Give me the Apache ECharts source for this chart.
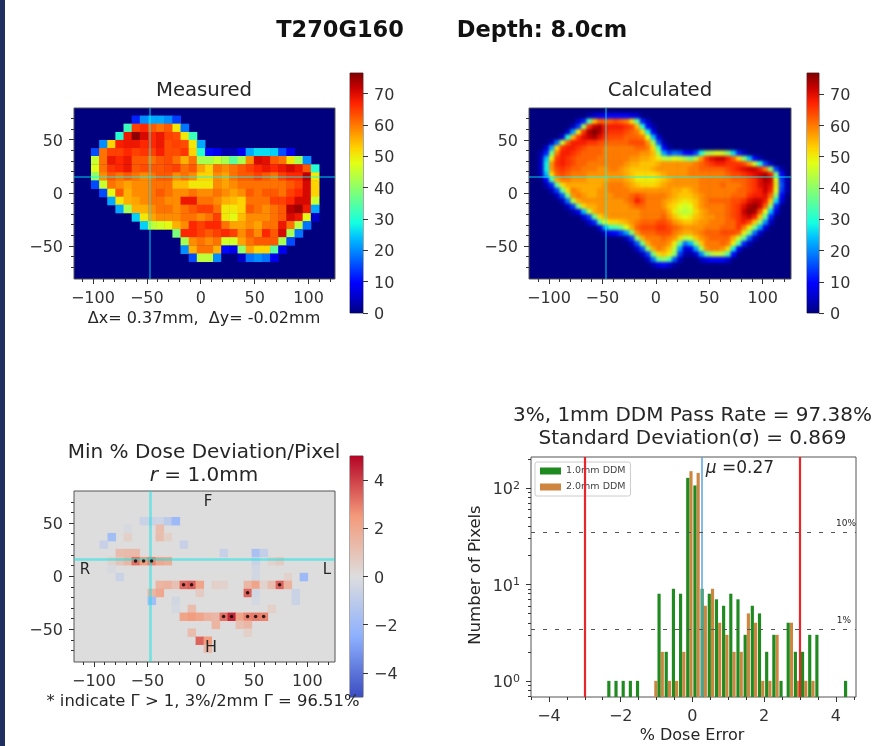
<!DOCTYPE html>
<html>
<head>
<meta charset="utf-8">
<style>
html,body{margin:0;padding:0;background:#fff}
#chart{position:absolute;left:0;top:0;width:896px;height:746px;filter:blur(0.6px);z-index:1}
#calcBox{position:absolute;left:529px;top:108px;width:262px;height:171px;overflow:hidden;background:#00007f}
#calcMap{width:262px;height:171px;filter:blur(1.5px)}
</style>
<script src="https://cdn.jsdelivr.net/npm/echarts@6/dist/echarts.min.js"></script>
</head>
<body>
<div id="calcBox"><div id="calcMap"></div></div>
<div id="chart"></div>
<script>
// tick values
const mapMajor = [-100, -50, 0, 50, 100];
const mapMinorX = [-110, -90, -80, -70, -60, -40, -30, -20, -10, 10, 20, 30, 40, 60, 70, 80, 90, 110, 120];
const mapMajorY = [-50, 0, 50];
const mapMinorY = [-70, -60, -40, -30, -20, -10, 10, 20, 30, 40, 60, 70];
const doseBarTicks = [0, 10, 20, 30, 40, 50, 60, 70];
const devBarTicks = [-4, -2, 0, 2, 4];
const histMajorX = [-4, -2, 0, 2, 4];
const histMinorX = [-4.5, -3.5, -3, -2.5, -1.5, -1, -0.5, 0.5, 1, 1.5, 2.5, 3, 3.5, 4.5];
const histMajorY = [1, 10, 100];
const histMinorY = [0.7, 0.8, 0.9, 2, 3, 4, 5, 6, 7, 8, 9, 20, 30, 40, 50, 60, 70, 80, 90, 200];

// colour ramps
const jet = ['#00007f', '#0000c8', '#0000ff', '#0040ff', '#0080ff', '#00bfff', '#14ffe2', '#48ffaf', '#7bff7b',
  '#afff48', '#e2ff14', '#ffd200', '#ff9700', '#ff5c00', '#ff2100', '#c80000', '#7f0000'];
const coolwarm = ['#3b4cc0', '#8db0fe', '#dddddd', '#f49a7b', '#b40426'];

// 十字线位置
const crossMeasured = [-47, 15];
const crossCalculated = [-47, 15];
const crossDeviation = [-47, 16];

// Measured: [y, first x index, values...]  x = -98 + 7.55 * index
const measRows = [
  [68.7, 5, 12, 20, 22, 22, 20, 14],
  [61.1, 4, 32, 64, 66, 62, 60, 62, 50, 18],
  [53.3, 3, 30, 68, 75, 70, 66, 68, 64, 63, 50, 32],
  [45.8, 1, 20, 52, 67, 68, 68, 66, 66, 68, 63, 64, 63, 50, 22],
  [38.2, 0, 15, 60, 64, 64, 66, 64, 65, 64, 67, 63, 63, 65, 52, 30, 10, 8, 3, 3, 8, 22, 26, 26, 25, 15, 8],
  [30.7, 0, 45, 60, 68, 66, 68, 62, 62, 60, 62, 63, 60, 55, 60, 42, 42, 45, 42, 35, 42, 58, 70, 69, 62, 60, 50, 42, 20],
  [22.9, 0, 47, 60, 65, 66, 68, 62, 63, 62, 62, 63, 64, 60, 62, 56, 52, 60, 58, 60, 62, 64, 66, 68, 66, 68, 70, 68, 62, 30],
  [15.4, 0, 40, 58, 62, 60, 62, 60, 58, 60, 62, 62, 58, 60, 58, 52, 52, 58, 56, 60, 62, 62, 64, 62, 60, 64, 66, 66, 72, 50],
  [7.8, 0, 15, 45, 60, 58, 56, 58, 58, 60, 60, 60, 54, 54, 50, 50, 50, 58, 56, 58, 60, 60, 60, 60, 60, 60, 62, 64, 70, 52],
  [0, 1, 15, 48, 62, 55, 58, 58, 60, 62, 60, 58, 58, 60, 58, 58, 60, 58, 56, 58, 62, 60, 62, 62, 60, 64, 66, 70, 52],
  [-7.5, 2, 22, 50, 55, 56, 58, 60, 60, 58, 58, 68, 68, 60, 60, 58, 55, 54, 52, 60, 60, 60, 64, 64, 66, 70, 70, 45],
  [-15, 3, 22, 42, 55, 55, 58, 60, 60, 58, 60, 62, 64, 64, 60, 50, 50, 52, 62, 60, 58, 60, 62, 72, 74, 68, 22],
  [-22.9, 5, 25, 50, 56, 58, 58, 58, 60, 60, 58, 60, 64, 50, 48, 54, 58, 58, 58, 60, 62, 70, 68, 48, 5],
  [-30.4, 6, 25, 44, 46, 48, 55, 58, 66, 64, 66, 66, 60, 56, 56, 58, 56, 60, 60, 68, 60, 44, 18],
  [-37.9, 10, 38, 66, 66, 64, 62, 64, 66, 64, 58, 62, 58, 66, 62, 70, 42, 18],
  [-45.5, 11, 42, 58, 60, 58, 60, 46, 46, 56, 60, 62, 62, 62, 42, 15],
  [-53.3, 11, 20, 55, 60, 60, 55, 10, 8, 40, 56, 52, 52, 35, 8],
  [-60.8, 12, 15, 44, 44, 20, 0, 0, 5, 18, 20, 18, 8]
];

// Calculated: [y, first x, values at 5mm steps...]
const calcRows = [
  [72.5, -62.5, 3, 6, 8, 10, 10, 10, 10, 10, 8, 6],
  [67.5, -72.5, 5, 12, 35, 55, 62, 62, 62, 64, 62, 60, 52, 35, 12, 4],
  [62.5, -77.5, 4, 14, 42, 66, 72, 74, 68, 68, 68, 68, 66, 64, 55, 30, 10, 3],
  [57.5, -82.5, 5, 22, 50, 66, 74, 77, 74, 68, 66, 66, 66, 64, 62, 60, 52, 28, 8],
  [52.5, -87.5, 6, 30, 55, 66, 70, 72, 74, 70, 66, 64, 64, 64, 62, 62, 62, 60, 48, 24, 6],
  [47.5, -97.5, 4, 18, 45, 62, 68, 68, 68, 66, 66, 64, 63, 62, 62, 62, 62, 64, 64, 64, 58, 42, 16, 3],
  [42.5, -102.5, 5, 22, 52, 66, 68, 68, 66, 64, 62, 62, 62, 60, 60, 60, 60, 60, 60, 62, 62, 60, 52, 32, 10, 2],
  [37.5, -107.5, 3, 12, 38, 60, 68, 68, 66, 64, 62, 62, 62, 62, 60, 60, 60, 60, 60, 60, 60, 58, 58, 55, 42, 22, 14, 18, 16, 10, 8, 14, 30, 42, 45, 48, 46, 40, 26, 12, 4],
  [32.5, -107.5, 4, 24, 50, 65, 68, 66, 64, 62, 62, 62, 62, 60, 60, 60, 60, 60, 60, 58, 58, 56, 56, 54, 50, 45, 44, 48, 46, 42, 38, 44, 58, 66, 70, 72, 72, 68, 62, 52, 40, 24, 10, 3],
  [27.5, -107.5, 5, 28, 58, 66, 68, 66, 64, 62, 62, 60, 60, 60, 60, 60, 60, 60, 58, 56, 56, 54, 54, 54, 56, 58, 58, 58, 58, 58, 58, 60, 62, 64, 66, 68, 68, 66, 66, 66, 64, 58, 46, 30, 14, 4],
  [22.5, -107.5, 5, 28, 58, 64, 66, 64, 62, 62, 60, 60, 60, 58, 58, 60, 60, 58, 56, 54, 54, 54, 54, 56, 58, 58, 58, 58, 58, 58, 60, 60, 62, 62, 62, 62, 62, 64, 66, 68, 70, 72, 72, 68, 60, 40, 14, 3],
  [17.5, -107.5, 4, 24, 52, 62, 64, 62, 60, 60, 60, 58, 58, 58, 58, 58, 58, 58, 56, 54, 52, 52, 52, 52, 54, 56, 58, 58, 58, 58, 60, 60, 60, 60, 60, 60, 60, 62, 64, 64, 66, 68, 70, 72, 74, 68, 38, 10],
  [12.5, -102.5, 10, 34, 56, 60, 60, 58, 58, 58, 56, 56, 56, 56, 58, 58, 58, 56, 54, 50, 50, 50, 50, 52, 54, 56, 58, 58, 58, 58, 58, 60, 60, 60, 60, 60, 60, 62, 62, 62, 64, 66, 70, 74, 72, 48, 14, 3],
  [7.5, -102.5, 3, 12, 36, 52, 56, 56, 56, 56, 56, 56, 56, 58, 60, 60, 60, 58, 56, 54, 52, 52, 52, 54, 56, 58, 58, 58, 58, 58, 58, 60, 60, 60, 60, 62, 60, 60, 60, 62, 64, 66, 70, 72, 70, 50, 16, 3],
  [2.5, -97.5, 4, 14, 36, 52, 60, 58, 56, 56, 56, 58, 58, 60, 60, 60, 60, 58, 58, 58, 58, 58, 58, 58, 58, 56, 56, 54, 56, 58, 60, 60, 60, 60, 60, 60, 60, 62, 62, 64, 66, 68, 72, 68, 48, 14, 3],
  [-2.5, -92.5, 4, 16, 38, 58, 60, 58, 56, 56, 58, 58, 58, 60, 60, 60, 62, 64, 62, 60, 60, 60, 60, 58, 56, 54, 54, 54, 56, 58, 60, 60, 60, 60, 60, 62, 62, 62, 66, 68, 68, 70, 62, 40, 10],
  [-7.5, -87.5, 4, 18, 44, 56, 58, 58, 58, 58, 58, 58, 58, 58, 60, 62, 68, 64, 60, 60, 60, 58, 56, 54, 52, 50, 52, 54, 58, 60, 62, 62, 62, 62, 64, 64, 66, 70, 72, 72, 68, 54, 26, 6],
  [-12.5, -82.5, 4, 14, 38, 52, 56, 56, 58, 58, 58, 58, 58, 58, 60, 62, 62, 60, 60, 60, 58, 54, 52, 48, 46, 48, 54, 58, 60, 60, 60, 60, 62, 64, 66, 70, 74, 76, 72, 62, 40, 12],
  [-17.5, -77.5, 3, 8, 24, 44, 56, 58, 58, 58, 58, 58, 58, 58, 58, 60, 60, 60, 60, 60, 56, 50, 46, 44, 46, 52, 56, 58, 60, 60, 60, 62, 64, 66, 72, 76, 74, 64, 48, 24, 6],
  [-22.5, -67.5, 6, 14, 36, 52, 56, 58, 58, 58, 58, 58, 58, 60, 60, 60, 60, 62, 58, 54, 50, 48, 50, 54, 56, 58, 58, 60, 60, 62, 64, 66, 70, 72, 68, 54, 36, 12],
  [-27.5, -62.5, 5, 12, 34, 48, 52, 52, 54, 56, 58, 60, 62, 62, 62, 64, 64, 62, 58, 56, 54, 54, 56, 58, 58, 60, 60, 60, 62, 62, 66, 68, 64, 54, 40, 20, 4],
  [-32.5, -52.5, 6, 22, 32, 34, 38, 48, 56, 62, 64, 64, 64, 66, 66, 64, 62, 60, 58, 58, 58, 58, 60, 60, 60, 62, 62, 62, 66, 60, 50, 38, 22, 6],
  [-37.5, -47.5, 4, 8, 10, 14, 22, 40, 58, 62, 62, 62, 64, 64, 64, 60, 58, 56, 56, 58, 60, 62, 62, 62, 64, 64, 64, 62, 50, 38, 18, 5],
  [-42.5, -27.5, 4, 14, 40, 56, 60, 60, 60, 62, 60, 58, 52, 44, 46, 54, 58, 60, 62, 62, 62, 62, 56, 46, 36, 16, 4],
  [-47.5, -22.5, 4, 16, 38, 56, 60, 60, 60, 58, 50, 36, 18, 24, 40, 54, 60, 60, 60, 62, 60, 50, 34, 12, 3],
  [-52.5, -17.5, 5, 16, 40, 56, 60, 58, 54, 44, 22, 6, 8, 22, 42, 58, 60, 60, 58, 52, 28, 8],
  [-57.5, -12.5, 4, 14, 38, 52, 54, 50, 40, 14, 3, 2, 6, 20, 36, 44, 46, 44, 34, 10],
  [-62.5, -7.5, 4, 18, 36, 40, 34, 16, 4, 0, 0, 0, 4, 8, 10, 10, 10, 6],
  [-67.5, -2.5, 3, 8, 10, 6, 2]
];

// Deviation: [x, y, value]
const devCells = [
  [-53.5, 52, -0.6], [-46, 52, -0.6], [-38.5, 52, -0.5], [-31, 52, -1], [-23.5, 52, -2],
  [-68.5, 45, -0.2], [-38.5, 45, 1.2],
  [-83.5, 37, -1.8], [-68.5, 37, 0.5], [-38.5, 37, 1.2], [-31, 37, 0.5],
  [-91, 30, -0.7], [-16, 30, -0.7],
  [-76, 22, 1.2], [-68.5, 22, 1.3], [-61, 22, 1.3], [21.5, 22, -0.7], [51.5, 22, -1.6], [59, 22, -0.8],
  [-83.5, 14.4, 0.4], [-76, 14.4, 0.9], [-68.5, 14.4, 1.4], [-61, 14.4, 3.2], [-53.5, 14.4, 2.4], [-46, 14.4, 2.9],
  [-38.5, 14.4, 2], [-31, 14.4, 1.8], [51.5, 14.4, -0.6], [66.5, 14.4, 0.4], [74, 14.4, 0.7],
  [-83.5, 7, -0.2], [51.5, 7, -0.4],
  [-76, -0.6, -0.6], [51.5, -0.6, -0.4], [81.5, -0.6, 0.4], [96.5, -0.6, -2],
  [-38.5, -8, 1.5], [-31, -8, 1.6], [-23.5, -8, 1.1], [-16, -8, 3.3], [-8.5, -8, 3.5], [-1, -8, 2.1], [14, -8, 0.5], [21.5, -8, 0.4],
  [44, -8, 1.4], [51.5, -8, 2.1], [59, -8, 0.4], [66.5, -8, 1.2], [74, -8, 3.4], [81.5, -8, 1.6],
  [-46, -15.6, 1.4], [-38.5, -15.6, 2], [-1, -15.6, 0.7], [44, -15.6, 3.4], [51.5, -15.6, -0.4], [89, -15.6, -0.6],
  [-46, -23, -1.8], [-23.5, -23, -0.4], [51.5, -23, -0.3], [89, -23, -0.6],
  [-23.5, -30.6, -0.3], [-8.5, -30.6, 1.2], [66.5, -30.6, 0.5],
  [-16, -38, 2.1], [-8.5, -38, 2.4], [-1, -38, 2.1], [6.5, -38, 1.6], [14, -38, 1.4], [21.5, -38, 3.2], [29, -38, 4.4], [36.5, -38, 2.1],
  [44, -38, 2.9], [51.5, -38, 3], [59, -38, 2.9],
  [14, -45.6, 1.5], [36.5, -45.6, 1.1], [44, -45.6, 1.4],
  [-8.5, -53, 1.2], [44, -53, 0.5],
  [-1, -60.6, 3.4], [6.5, -60.6, 2.4],
  [6.5, -68, 1.4]
];
const devStars = [[-61, 14.4], [-53.5, 14.4], [-46, 14.4], [-16, -8], [-8.5, -8], [74, -8], [44, -15.6],
  [21.5, -38], [29, -38], [44, -38], [51.5, -38], [59, -38]];

// Histogram
const greenX = [-2.33, -2.13, -1.93, -1.73, -1.53, -0.93, -0.73, -0.53, -0.33, -0.13, 0.07, 0.27, 0.47, 0.67, 0.87, 1.07, 1.27, 1.47, 1.67, 1.87, 2.07, 2.27, 2.47, 2.67, 2.87, 3.07, 3.27, 3.47, 4.27];
const greenCounts = [1, 1, 1, 1, 1, 8, 2, 9, 8, 127, 106, 9, 8, 7, 6, 8, 7, 3, 6, 5, 2, 3, 1, 4, 2, 2, 3, 3, 1];
const orangeX = [-1.02, -0.84, -0.64, -0.44, -0.24, -0.04, 0.16, 0.36, 0.56, 0.76, 0.96, 1.16, 1.36, 1.56, 1.76, 1.96, 2.16, 2.36, 2.76, 2.96, 3.16, 3.36];
const orangeCounts = [1, 2, 1, 1, 2, 149, 143, 6, 9, 4, 3, 2, 2, 5, 4, 1, 1, 3, 4, 1, 1, 1];
const redLines = [-3, 3];
const meanLine = 0.27;
const percentLines = [34.5, 3.45];

const FONT = 'DejaVu Sans';
const fmtNum = v => String(v).replace('-', '\u2212');
const fmtRich = v => '{a|' + fmtNum(v) + '}';
const tickRich = { a: { fontFamily: FONT, fontSize: 16, color: '#333' } };

const option = { animation: false, grid: [], xAxis: [], yAxis: [], series: [], visualMap: [], graphic: [] };

function text(str, x, y, size, extra) {
  option.graphic.push({
    type: 'text', z: 100, silent: true, rotation: (extra && extra.rotation) || 0, x: x, y: y,
    style: Object.assign({ text: str, fontFamily: FONT, fontSize: size, fill: '#262626', align: 'center', verticalAlign: 'middle' }, extra && extra.style)
  });
}

// 一个坐标系：主刻度轴 + 次刻度轴
function addAxes(rect, xr, yr, ticks, bg) {
  const g = option.grid.length;
  option.grid.push({ left: rect[0], top: rect[1], width: rect[2], height: rect[3], show: true, backgroundColor: bg || 'transparent', borderColor: '#555', borderWidth: 1 });
  const base = { gridIndex: g, splitLine: { show: false }, axisLine: { show: false, onZero: false } };
  const xi = option.xAxis.length, yi = option.yAxis.length;
  option.xAxis.push(Object.assign({}, base, {
    type: 'value', position: 'bottom', min: xr[0], max: xr[1],
    axisTick: { length: 5, lineStyle: { color: '#333' }, customValues: ticks.xMajor },
    axisLabel: { customValues: ticks.xMajor, color: '#333', fontFamily: FONT, fontSize: 16, margin: 12, formatter: fmtNum }
  }));
  option.xAxis.push(Object.assign({}, base, {
    type: 'value', position: 'bottom', min: xr[0], max: xr[1],
    axisTick: { length: 3, lineStyle: { color: '#333' }, customValues: ticks.xMinor },
    axisLabel: { show: false }
  }));
  option.yAxis.push(Object.assign({}, base, {
    type: ticks.yType || 'value', position: 'left', min: yr[0], max: yr[1],
    axisTick: { length: 5, lineStyle: { color: '#333' }, customValues: ticks.yMajor },
    axisLabel: { customValues: ticks.yMajor, color: '#333', fontFamily: FONT, fontSize: 16, margin: 11, padding: [4, 0, 0, 0], formatter: ticks.yFormat || fmtRich, rich: ticks.yRich || tickRich }
  }));
  option.yAxis.push(Object.assign({}, base, {
    type: ticks.yType || 'value', position: 'left', min: yr[0], max: yr[1],
    axisTick: { length: 3, lineStyle: { color: '#333' }, customValues: ticks.yMinor },
    axisLabel: { show: false }
  }));
  return { x: xi, y: yi };
}

const cellItem = (dx, dy) => (params, api) => {
  const c = api.coord([api.value(0), api.value(1)]);
  const s = api.size([dx, dy]);
  return { type: 'rect', shape: { x: c[0] - s[0] / 2, y: c[1] - s[1] / 2, width: s[0] + 0.5, height: s[1] + 0.5 }, style: { fill: api.visual('color') } };
};

function addMap(rect, xr, yr, cells, dx, dy, cross, colors, range, bg, lineStyle) {
  const ax = addAxes(rect, xr, yr, { xMajor: mapMajor, xMinor: mapMinorX, yMajor: mapMajorY, yMinor: mapMinorY }, bg);
  const idx = option.series.length;
  option.series.push({
    type: 'custom', xAxisIndex: ax.x, yAxisIndex: ax.y, clip: true, renderItem: cellItem(dx, dy), encode: { x: 0, y: 1 }, data: cells,
    markLine: {
      silent: true, symbol: 'none', label: { show: false }, animation: false,
      lineStyle: lineStyle,
      data: [{ xAxis: cross[0] }, { yAxis: cross[1] }]
    }
  });
  option.visualMap.push({ show: false, seriesIndex: idx, dimension: 2, min: range[0], max: range[1], inRange: { color: colors } });
  return ax;
}

function addColorbar(rect, range, ticks, colors) {
  const g = option.grid.length;
  option.grid.push({ left: rect[0], top: rect[1], width: rect[2], height: rect[3], show: true, borderColor: '#555', borderWidth: 1 });
  const xi = option.xAxis.length, yi = option.yAxis.length;
  option.xAxis.push({ gridIndex: g, type: 'value', min: 0, max: 1, show: false });
  option.yAxis.push({
    gridIndex: g, type: 'value', position: 'right', min: range[0], max: range[1], splitLine: { show: false },
    axisLine: { show: false, onZero: false },
    axisTick: { length: 5, lineStyle: { color: '#333' }, customValues: ticks },
    axisLabel: { customValues: ticks, color: '#333', fontFamily: FONT, fontSize: 16, margin: 11, padding: [4, 0, 0, 0], formatter: fmtRich, rich: tickRich }
  });
  option.series.push({
    type: 'custom', xAxisIndex: xi, yAxisIndex: yi, data: [[range[0], range[1]]], encode: { y: [0, 1] },
    renderItem: (params, api) => {
      const a = api.coord([0, api.value(1)]), b = api.coord([1, api.value(0)]);
      return {
        type: 'rect', shape: { x: a[0], y: a[1], width: b[0] - a[0], height: b[1] - a[1] },
        style: { fill: new echarts.graphic.LinearGradient(0, 1, 0, 0, colors.map((c, i) => ({ offset: i / (colors.length - 1), color: c }))) }
      };
    }
  });
}

const measCells = [];
measRows.forEach(r => r.slice(2).forEach((v, i) => measCells.push([-98 + 7.55 * (r[1] + i), r[0], v])));
const calcCells = [];
calcRows.forEach(r => r.slice(2).forEach((v, i) => calcCells.push([r[1] + 5 * i, r[0], v])));

const doseCross = { color: 'rgba(0,255,255,0.55)', width: 1.5, type: 'solid' };
const devCross = { color: 'rgba(0,230,230,0.5)', width: 2.5, type: 'solid' };
const calcXRange = [-118.7, 126.5], calcYRange = [-81, 80];

// Measured
addMap([74, 108, 261, 171], [-117.5, 124.5], [-81, 79.6], measCells, 7.55, 7.6, crossMeasured, jet, [0, 76], '#00007f', doseCross);
addColorbar([350, 73, 13, 240], [0, 76.6], doseBarTicks, jet);
text('Measured', 204, 91, 19.7);
text('\u0394x= 0.37mm,  \u0394y= -0.02mm', 204, 319, 16);

// Calculated: 单元格画在下层的模糊图里，这里只有坐标轴和十字线
addMap([529, 108, 262, 171], calcXRange, calcYRange, [], 5, 5, crossCalculated, jet, [0, 77], 'transparent', doseCross);
addColorbar([807, 73, 12, 240], [0, 76.8], doseBarTicks, jet);
text('Calculated', 660, 91, 19.7);

// Deviation
const devAx = addMap([74, 491, 261, 171], [-118.7, 125.9], [-80.8, 80.2], devCells, 7.5, 7.5, crossDeviation, coolwarm, [-5, 5], '#dddddd', devCross);
option.series.push({ type: 'scatter', xAxisIndex: devAx.x, yAxisIndex: devAx.y, symbol: 'circle', symbolSize: 3.5, itemStyle: { color: '#000' }, data: devStars, z: 5 });
addColorbar([350, 456, 13, 241], [-5, 5], devBarTicks, coolwarm);
text('Min % Dose Deviation/Pixel', 204, 453, 20);
text('{i|r} = 1.0mm', 204, 476, 20, { style: { rich: { i: { fontStyle: 'italic', fontFamily: FONT, fontSize: 20, fill: '#262626' } } } });
text('F', 208, 502, 15); text('R', 85, 570, 15); text('L', 327, 570, 15); text('H', 211, 648, 16);
text('* indicate \u0393 > 1, 3%/2mm \u0393 = 96.51%', 203, 702, 16.4);

// Histogram
const histAx = addAxes([531, 457, 325, 240], [-4.5, 4.56], [0.68, 209], {
  xMajor: histMajorX, xMinor: histMinorX, yMajor: histMajorY, yMinor: histMinorY, yType: 'log',
  yFormat: v => '{b|10}{s|' + Math.round(Math.log10(v)) + '}',
  yRich: { b: { fontFamily: FONT, fontSize: 16, color: '#333' }, s: { fontFamily: FONT, fontSize: 11, color: '#333', padding: [0, 0, 8, 0] } }
});
const histBar = (params, api) => {
  const a = api.coord([api.value(0) - 0.044, api.value(1)]);
  const b = api.coord([api.value(0) + 0.044, 0.68]);
  return { type: 'rect', shape: { x: a[0], y: a[1], width: b[0] - a[0], height: b[1] - a[1] }, style: { fill: api.visual('color') } };
};
option.series.push({
  name: '2.0mm DDM', type: 'custom', xAxisIndex: histAx.x, yAxisIndex: histAx.y, clip: true, renderItem: histBar, itemStyle: { color: '#cd853f' },
  encode: { x: 0, y: 1 }, data: orangeX.map((x, i) => [x, orangeCounts[i]])
});
option.series.push({
  name: '1.0mm DDM', type: 'custom', xAxisIndex: histAx.x, yAxisIndex: histAx.y, clip: true, renderItem: histBar, itemStyle: { color: '#1f8a1f' },
  encode: { x: 0, y: 1 }, data: greenX.map((x, i) => [x, greenCounts[i]]),
  markLine: {
    silent: true, symbol: 'none', label: { show: false }, animation: false,
    data: [
      { xAxis: redLines[0], lineStyle: { color: '#e8262a', width: 2.2, type: 'solid' } },
      { xAxis: redLines[1], lineStyle: { color: '#e8262a', width: 2.2, type: 'solid' } },
      { xAxis: meanLine, lineStyle: { color: '#5aa5e0', width: 1.5, type: 'solid' } },
      { yAxis: percentLines[0], lineStyle: { color: '#555', width: 1, type: [4, 8] } },
      { yAxis: percentLines[1], lineStyle: { color: '#555', width: 1, type: [4, 8] } }
    ]
  }
});
option.legend = {
  left: 535, top: 462, orient: 'vertical', data: ['1.0mm DDM', '2.0mm DDM'], itemWidth: 21, itemHeight: 7, itemGap: 6,
  padding: [4, 5], textStyle: { fontFamily: FONT, fontSize: 9.5, color: '#444' }, borderColor: '#ccc', borderWidth: 1, borderRadius: 2,
  backgroundColor: 'rgba(255,255,255,0.8)', selectedMode: false, icon: 'rect'
};
text('3%, 1mm DDM Pass Rate = 97.38%', 692.5, 416, 20);
text('Standard Deviation(\u03c3) = 0.869', 692.5, 439, 20);
text('{i|\u03bc} =0.27', 740, 469, 17, { style: { rich: { i: { fontStyle: 'italic', fontFamily: FONT, fontSize: 17, fill: '#262626' } } } });
text('10%', 846, 524, 9); text('1%', 844, 621, 9);
text('% Dose Error', 692, 736, 16);
text('Number of Pixels', 476, 575, 16.5, { rotation: Math.PI / 2 });

// 标题 + 左侧色条
text('T270G160', 340, 31, 22.5, { style: { fontWeight: 'bold', fill: '#111' } });
text('Depth: 8.0cm', 542, 31, 22.5, { style: { fontWeight: 'bold', fill: '#111' } });
option.graphic.push({ type: 'rect', shape: { x: 0, y: 0, width: 5, height: 746 }, style: { fill: '#1f2d5f' } });

const chart = echarts.init(document.getElementById('chart'));
chart.setOption(option);

// Calculated 的平滑底图
const calcChart = echarts.init(document.getElementById('calcMap'));
calcChart.setOption({
  animation: false,
  grid: { left: 0, right: 0, top: 0, bottom: 0 },
  xAxis: { type: 'value', min: calcXRange[0], max: calcXRange[1], show: false },
  yAxis: { type: 'value', min: calcYRange[0], max: calcYRange[1], show: false },
  visualMap: { show: false, dimension: 2, min: 0, max: 77, inRange: { color: jet } },
  series: [{ type: 'custom', renderItem: cellItem(5, 5), encode: { x: 0, y: 1 }, data: calcCells }]
});
</script>
</body>
</html>
